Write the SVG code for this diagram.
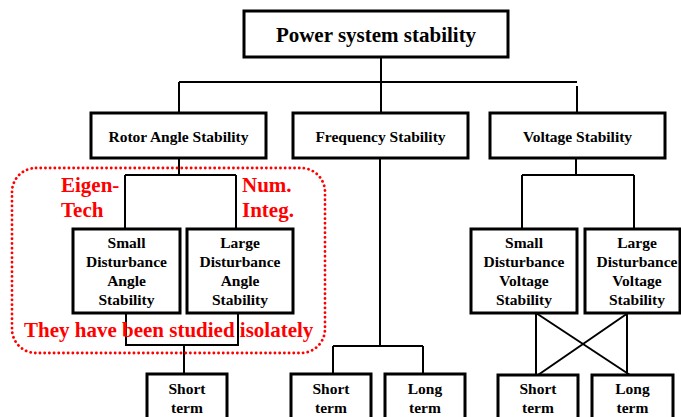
<svg xmlns="http://www.w3.org/2000/svg" width="681" height="417" viewBox="0 0 681 417">
<style>
.box{fill:#fff;stroke:#000;stroke-width:3}
.t{font-family:"Liberation Serif","Times New Roman",serif;font-weight:bold;font-size:15.5px;fill:#000;text-anchor:middle}
.title{font-size:21px}
.red{font-family:"Liberation Serif","Times New Roman",serif;font-weight:bold;font-size:21px;fill:#ff0000}
.c{fill:none;stroke:#000;stroke-width:2}
</style>
<rect width="681" height="417" fill="#fff"/>
<g id="connectors">
<path class="c" d="M381,57V112M179,82H577M179,82V112M577,86V112"/>
<path class="c" d="M179,158V175M125,175H236M125,175V229M236,175V229"/>
<path class="c" d="M126,313V345H238V313M184,345V374"/>
<path class="c" d="M380,158V346M333,346H423M333,346V374M423,346V374"/>
<path class="c" d="M576,158V175M522,175H634M522,175V229M634,175V229"/>
<path class="c" d="M536,313V375M627,313V375M536,313L630,375M628,313L538,375"/>
</g>
<g id="root"><rect class="box" x="244" y="11" width="264" height="46"/><text class="t title" x="376" y="42">Power system stability</text></g>
<g id="rotor"><rect class="box" x="91" y="113" width="175" height="45"/><text class="t" x="178.5" y="142">Rotor Angle Stability</text></g>
<g id="frequency"><rect class="box" x="293" y="113" width="175" height="45"/><text class="t" x="380.5" y="142">Frequency Stability</text></g>
<g id="voltage"><rect class="box" x="490" y="113" width="175" height="45"/><text class="t" x="577.5" y="142">Voltage Stability</text></g>
<g id="sda"><rect class="box" x="73" y="229" width="107" height="84"/><text class="t" x="126.5"><tspan x="126.5" y="248">Small</tspan><tspan x="126.5" y="267">Disturbance</tspan><tspan x="126.5" y="286">Angle</tspan><tspan x="126.5" y="305">Stability</tspan></text></g>
<g id="lda"><rect class="box" x="187" y="229" width="106" height="84"/><text class="t" x="240"><tspan x="240" y="248">Large</tspan><tspan x="240" y="267">Disturbance</tspan><tspan x="240" y="286">Angle</tspan><tspan x="240" y="305">Stability</tspan></text></g>
<g id="sdv"><rect class="box" x="471" y="229" width="106" height="84"/><text class="t" x="524"><tspan x="524" y="248">Small</tspan><tspan x="524" y="267">Disturbance</tspan><tspan x="524" y="286">Voltage</tspan><tspan x="524" y="305">Stability</tspan></text></g>
<g id="ldv"><rect class="box" x="585" y="229" width="95" height="84"/><text class="t" x="637"><tspan x="637" y="248">Large</tspan><tspan x="637" y="267">Disturbance</tspan><tspan x="637" y="286">Voltage</tspan><tspan x="637" y="305">Stability</tspan></text></g>
<g id="angle-short"><rect class="box" x="147" y="374" width="80" height="60"/><text class="t"><tspan x="187" y="394">Short</tspan><tspan x="187" y="413">term</tspan></text></g>
<g id="freq-short"><rect class="box" x="291" y="374" width="80" height="60"/><text class="t"><tspan x="331" y="394">Short</tspan><tspan x="331" y="413">term</tspan></text></g>
<g id="freq-long"><rect class="box" x="385" y="374" width="80" height="60"/><text class="t"><tspan x="425" y="394">Long</tspan><tspan x="425" y="413">term</tspan></text></g>
<g id="volt-short"><rect class="box" x="498" y="375" width="80" height="60"/><text class="t"><tspan x="538" y="394">Short</tspan><tspan x="538" y="413">term</tspan></text></g>
<g id="volt-long"><rect class="box" x="592" y="375" width="81" height="60"/><text class="t"><tspan x="632.5" y="394">Long</tspan><tspan x="632.5" y="413">term</tspan></text></g>
<g id="annotation">
<rect x="12" y="168" width="313" height="185" rx="24" ry="24" fill="none" stroke="#ff0000" stroke-width="2.8" stroke-dasharray="0.1 4.6" stroke-linecap="round"/>
<text class="red" x="61" y="192">Eigen-</text>
<text class="red" x="61" y="217">Tech</text>
<text class="red" x="242" y="192">Num.</text>
<text class="red" x="242" y="217">Integ.</text>
<text class="red" x="24" y="337">They have been studied isolately</text>
</g>
</svg>
